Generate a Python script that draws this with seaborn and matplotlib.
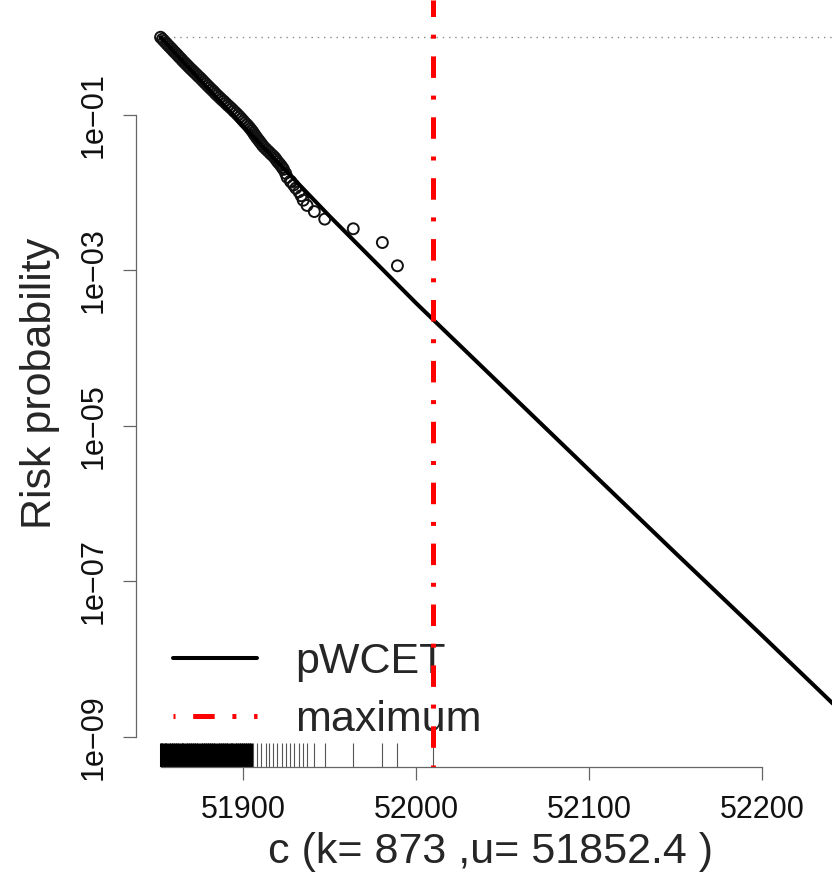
import numpy as np
import pandas as pd
import seaborn as sns
import matplotlib
matplotlib.use("Agg")
import matplotlib.pyplot as plt
from matplotlib.ticker import NullLocator

# ---- data ----
u = 51852.4
k = 873
c_max = 52010.0

# fitted pWCET curve
curve_c = [51852.4, 51900, 51950, 52000, 52050, 52100, 52150, 52200, 52250, 52300]
curve_p = [1.0, 7.2e-2, 5.0e-3, 3.8e-4, 3.2e-5, 2.7e-6, 2.3e-7, 2.0e-8, 1.7e-9, 1.4e-10]

# empirical exceedance points (circles)
emp_c = [51852.4, 51853.5, 51854.5, 51855.6, 51856.6, 51857.7, 51858.8, 51859.8,
         51860.9, 51862.0, 51863.0, 51864.1, 51865.1, 51866.2, 51867.3, 51868.4,
         51869.5, 51870.7, 51871.8, 51873.0, 51874.1, 51875.3, 51876.4, 51877.5,
         51878.6, 51879.7, 51880.8, 51882.0, 51883.1, 51884.2, 51885.3, 51886.5,
         51887.7, 51888.9, 51890.1, 51891.3, 51892.5, 51893.7, 51894.8, 51896.0,
         51897.1, 51898.2, 51899.2, 51900.2, 51901.2, 51902.3, 51903.3, 51904.2,
         51905.1, 51905.9, 51906.6, 51907.4, 51908.2, 51909.1, 51909.9, 51910.8,
         51911.6, 51912.7, 51913.8, 51915.0, 51916.1, 51917.3, 51918.4, 51919.2,
         51920.0, 51921.0, 51921.9, 51922.7, 51923.4, 51924.6, 51925.5, 51927.4,
         51927.8, 51929.2, 51930.5, 51932.3, 51933.6, 51934.8, 51937.0, 51941.2,
         51947.2, 51963.7, 51980.5, 51989.2]
emp_p = [1.0, 0.944, 0.891, 0.841, 0.794, 0.750, 0.708, 0.668,
         0.631, 0.596, 0.562, 0.531, 0.501, 0.473, 0.447, 0.422,
         0.398, 0.376, 0.355, 0.335, 0.316, 0.299, 0.282, 0.266,
         0.251, 0.237, 0.224, 0.211, 0.200, 0.188, 0.178, 0.168,
         0.158, 0.150, 0.141, 0.133, 0.126, 0.119, 0.112, 0.106,
         0.100, 0.0944, 0.0891, 0.0841, 0.0794, 0.0750, 0.0708, 0.0668,
         0.0631, 0.0596, 0.0562, 0.0531, 0.0501, 0.0473, 0.0447, 0.0422,
         0.0398, 0.0376, 0.0355, 0.0335, 0.0316, 0.0299, 0.0282, 0.0266,
         0.0251, 0.0237, 0.0224, 0.0211, 0.0200, 0.0178, 0.0158, 0.0141,
         0.01375, 0.0126, 0.01145, 0.0103, 0.00916, 0.00802, 0.00687, 0.00573,
         0.00458, 0.00344, 0.00229, 0.00115]

# rug of observed execution times
rug_dense_c = [51852.4, 51853.5, 51854.9, 51855.8, 51857.2, 51858.3, 51859.6, 51860.7,
               51862.1, 51863.2, 51864.5, 51865.6, 51867.0, 51868.1, 51869.4, 51870.6,
               51871.8, 51873.1, 51874.2, 51875.6, 51876.7, 51878.0, 51879.2, 51880.5,
               51881.6, 51882.9, 51884.1, 51885.4, 51886.5, 51887.9, 51889.0, 51890.3,
               51891.5, 51892.8, 51893.9, 51895.2, 51896.4, 51897.7, 51898.8, 51900.1,
               51901.3, 51902.6, 51903.7, 51904.6]
rug_sparse_c = [51905.9, 51907.9, 51910.2, 51913.3, 51915.2, 51917.5, 51919.5, 51922.4,
                51924.7, 51927.2, 51929.5, 51932.3, 51934.8, 51937.0, 51941.2, 51947.2,
                51963.7, 51980.5, 51989.2, 52010.0]

xtick_values = [51900, 52000, 52100, 52200]
ytick_values = [1e-1, 1e-3, 1e-5, 1e-7, 1e-9]
ytick_labels = ["1e\u221201", "1e\u221203", "1e\u221205", "1e\u221207", "1e\u221209"]

# ---- figure ----
sns.set_theme(style="white")
plt.rcParams["font.family"] = ["Liberation Sans", "DejaVu Sans"]

W, H = 832, 874
fig = plt.figure(figsize=(W / 100, H / 100), dpi=100)
left, right, top, bottom = 136, 846, 0, 767
ax = fig.add_axes([left / W, 1 - bottom / H, (right - left) / W, (bottom - top) / H])
ax.set_yscale("log")
ax.set_xlim(51838.2, 52248.3)
ax.set_ylim(4.11e-10, 3.014)

# dotted reference at p = 1
ax.hlines(1.0, u, 52300, colors="#8a8a8a", linestyles=(0, (1, 3.5)), lw=1.0)

sns.scatterplot(x=emp_c, y=emp_p, ax=ax, marker="o", s=62, facecolor="none",
                edgecolor="#111111", linewidth=1.4, zorder=3)
sns.lineplot(x=curve_c, y=curve_p, ax=ax, color="black", lw=2.9, label="pWCET",
             estimator=None, sort=False, zorder=4)
sns.rugplot(x=rug_dense_c, ax=ax, height=24 / 767, color="black", linewidth=2.2,
            expand_margins=False)
sns.rugplot(x=rug_sparse_c, ax=ax, height=24 / 767, color="#555555", linewidth=0.8,
            expand_margins=False)
ax.axvline(c_max, color="red", lw=3.6, linestyle=(0.4, (0.8, 3.54, 4.3, 3.54)),
           label="maximum", zorder=6)

# R-like detached axes
for s in ["top", "right"]:
    ax.spines[s].set_visible(False)
for s in ["left", "bottom"]:
    ax.spines[s].set_color("#666666")
    ax.spines[s].set_linewidth(0.9)
ax.spines["left"].set_bounds(1e-9, 1e-1)
ax.spines["bottom"].set_bounds(u, 52200)

ax.set_xticks(xtick_values)
ax.set_xticklabels([str(v) for v in xtick_values])
ax.set_yticks(ytick_values)
ax.set_yticklabels(ytick_labels)
ax.yaxis.set_minor_locator(NullLocator())
ax.tick_params(axis="both", direction="out", length=9.4, width=0.9, color="#666666",
               labelsize=22, labelcolor="#111111", left=True, bottom=True)
ax.tick_params(axis="x", pad=11)
ax.tick_params(axis="y", pad=10)
for t in ax.get_yticklabels():
    t.set_rotation(90)
    t.set_va("center")

ax.set_xlabel("c (k= %d ,u= %s )" % (k, u), fontsize=31)
ax.set_ylabel("Risk probability", fontsize=31)
ax.xaxis.label.set_va("center")
ax.yaxis.label.set_va("center")
ax.xaxis.set_label_coords(0.5, -(852 - 767) / 767)
ax.yaxis.set_label_coords((40 - left) / (right - left), 0.5)

ax.legend(loc="upper left", bbox_to_anchor=(173 / W, 1 - 642 / H),
          bbox_transform=fig.transFigure, frameon=False, fontsize=31,
          handlelength=1.95, handletextpad=0.88, labelspacing=0.42,
          borderpad=0, borderaxespad=0)

fig.savefig("out.png", dpi=100)
